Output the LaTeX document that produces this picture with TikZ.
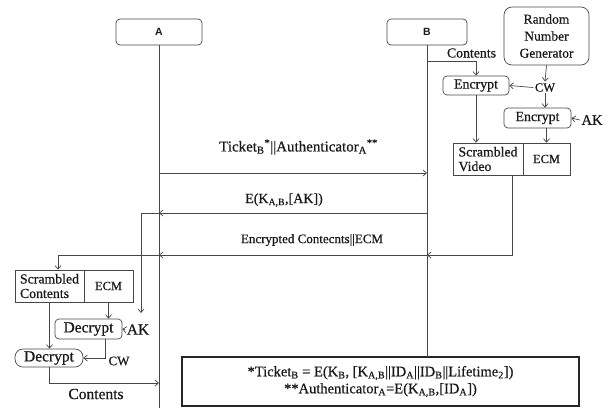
\documentclass[tikz,border=0pt]{standalone}
\usepackage{fontspec}
\setmainfont{Liberation Serif}[FakeBold=0.6]
\setsansfont{Liberation Sans}
\usetikzlibrary{arrows.meta}
\newcommand\fsz[2]{\fontsize{#1}{#2}\selectfont}
\begin{document}
\begin{tikzpicture}[x=1pt,y=-1pt,
  ln/.style={draw=black!72, line width=0.7pt},
  arr/.style={ln, -{Straight Barb[length=3.5pt,width=6pt]}},
  box/.style={draw=black!72, line width=0.7pt, inner sep=0pt, align=center, text=black!90},
  rbox/.style={box, rounded corners=4pt},
  lbl/.style={inner sep=1.5pt, text=black!90},
  msg/.style={lbl, font=\fsz{12.6}{14}},
]
\useasboundingbox (0,0) rectangle (609,408);
% lifeline heads
\node[rbox, minimum width=86pt, minimum height=26pt, font=\sffamily\bfseries\fsz{10.5}{12}] (A) at (159,32) {A};
\node[rbox, minimum width=80pt, minimum height=26pt, font=\sffamily\bfseries\fsz{10.5}{12}] (B) at (427,32) {B};
\node[box, rounded corners=8pt, minimum width=85pt, minimum height=58pt, font=\fsz{13.5}{17}] (rng) at (546.5,36) {Random\\Number\\Generator};
% footnote box
\node[box, draw=black!85, line width=1.5pt, minimum width=397pt, minimum height=49pt, font=\fsz{14.5}{17}] (foot) at (380.5,381.5)
 {*Ticket\textsubscript{B} = E(K\textsubscript{B}, [K\textsubscript{A,B}||ID\textsubscript{A}||ID\textsubscript{B}||Lifetime\textsubscript{2}])\\
  **Authenticator\textsubscript{A}=E(K\textsubscript{A,B},[ID\textsubscript{A}])};
% B side
\node[rbox, minimum width=66pt, minimum height=19pt, font=\fsz{13.9}{15}] (enc1) at (476,85.5) {Encrypt};
\node[rbox, minimum width=67pt, minimum height=20pt, font=\fsz{13.9}{15}] (enc2) at (537.5,118) {Encrypt};
\node[box, align=left, minimum width=70pt, minimum height=32pt, font=\fsz{13.8}{14.5}] (sv) at (488,159) {Scrambled\\Video};
\node[box, minimum width=47pt, minimum height=32pt, font=\fsz{12.5}{14}] (ecm1) at (546.5,159) {ECM};
\node[lbl, font=\fsz{13.8}{15}] (cont1) at (471.5,53) {Contents};
\node[lbl, font=\fsz{12.5}{14}] (cw1) at (545,87.5) {CW};
\node[lbl, font=\fsz{14.5}{16}] (ak1) at (592,120) {AK};
% A side
\node[box, align=left, minimum width=69pt, minimum height=32pt, font=\fsz{13.8}{14.5}] (sc) at (49.5,286) {Scrambled\\Contents};
\node[box, minimum width=49pt, minimum height=32pt, font=\fsz{12.5}{14}] (ecm2) at (108.5,286) {ECM};
\node[rbox, minimum width=67pt, minimum height=20pt, font=\fsz{15.5}{17}] (dec1) at (88.5,329) {Decrypt};
\node[box, rounded corners=8pt, minimum width=68pt, minimum height=18pt, font=\fsz{15.5}{17}] (dec2) at (49,358) {Decrypt};
\node[lbl, font=\fsz{15.5}{17}] (ak2) at (138,329.5) {AK};
\node[lbl, font=\fsz{13}{15}] (cw2) at (119,361) {CW};
\node[lbl, font=\fsz{15.5}{17}] (cont2) at (96,394) {Contents};
% message labels
\node[msg, font=\fsz{15}{16}] (tl) at (298.5,147) {Ticket\textsubscript{B}\textsuperscript{*}||Authenticator\textsubscript{A}\textsuperscript{**}};
\node[msg, font=\fsz{14}{15}] (kl) at (284,200) {E(K\textsubscript{A,B},[AK])};
\node[msg, font=\fsz{13}{15}] (el) at (312,240) {Encrypted Contecnts||ECM};
% coordinates on lifelines
\coordinate (Aend) at (159,408);
\coordinate (Bend) at (427,357);
\coordinate (bc) at (427,61);
\coordinate (t1) at (159,173);
\coordinate (t2) at (427,173);
\coordinate (k1) at (427,213);
\coordinate (k2) at (159,213);
\coordinate (k3) at (141,313);
\coordinate (e1) at (427,255);
\coordinate (e2) at (159,255);
\coordinate (a5) at (159,383);
% lifelines
\draw[ln] (A.south) -- (Aend);
\draw[ln] (B.south) -- (Bend);
% B side connectors
\draw[arr] (bc) -| (enc1.north);
\draw[arr] (rng.south) -- (cw1.north);
\draw[arr] (cw1.west) -- (enc1.east);
\draw[arr] (cw1.south) -- (cw1.south |- enc2.north);
\draw[arr] (ak1.west) -- (enc2.east);
\draw[arr] (ecm1.north |- enc2.south) -- (ecm1.north);
\draw[arr] (enc1.south) -- (enc1.south |- sv.north);
% messages
\draw[arr] (t1) -- (t2);
\draw[arr] (k1) -- (k2);
\draw[arr] (k2) -| (k3);
\draw[arr] ([xshift=24pt]sv.south) |- (e1);
\draw[arr] (e1) -- (e2);
\draw[arr] (e2) -| ([xshift=8.5pt]sc.north);
% A side connectors
\draw[arr] (ecm2.south) -- (ecm2.south |- dec1.north);
\draw[arr] (ak2.west) -- (dec1.east);
\draw[arr] (sc.south) -- (sc.south |- dec2.north);
\draw[arr] ([xshift=16.5pt]dec1.south) |- (dec2.east);
\draw[arr] (dec2.south) |- (a5);
\end{tikzpicture}
\end{document}
